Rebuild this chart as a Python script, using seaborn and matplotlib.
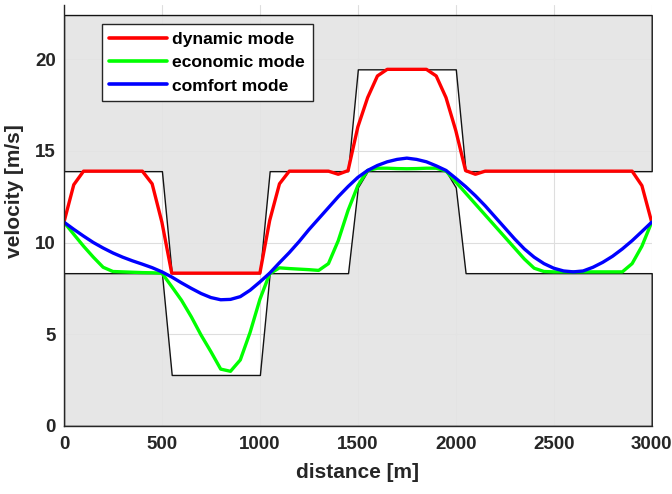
import numpy as np
import pandas as pd
import matplotlib
matplotlib.use("Agg")
import matplotlib.pyplot as plt
import seaborn as sns

# ---------------- data ----------------
distance = list(range(0, 3001, 50))

dynamic = [11.11, 13.15, 13.89, 13.89, 13.89, 13.89, 13.89, 13.89, 13.89,
           13.2, 11.1,
           8.33, 8.33, 8.33, 8.33, 8.33, 8.33, 8.33, 8.33, 8.33, 8.33,
           11.2, 13.2, 13.89, 13.89, 13.89, 13.89, 13.89,
           13.72, 13.92, 16.3, 17.9, 19.08,
           19.44, 19.44, 19.44, 19.44, 19.44,
           19.08, 17.9, 16.1, 13.92, 13.72,
           13.89, 13.89, 13.89, 13.89, 13.89, 13.89, 13.89, 13.89,
           13.89, 13.89, 13.89, 13.89, 13.89, 13.89, 13.89, 13.89,
           13.1, 11.11]

economic = [11.11, 10.45, 9.8, 9.2, 8.65, 8.42, 8.4, 8.38, 8.36, 8.35, 8.33,
            7.6, 6.85, 5.95, 4.95, 4.05, 3.1, 2.98, 3.6, 5.1, 6.9, 8.3,
            8.62, 8.58, 8.55, 8.52, 8.48, 8.85, 10.1, 11.75, 13.1, 13.93,
            14.05, 14.05, 14.03, 14.02, 14.03, 14.05, 14.05, 13.9,
            13.3, 12.7, 12.1, 11.5, 10.9, 10.3, 9.7, 9.1, 8.6, 8.42,
            8.4, 8.4, 8.4, 8.4, 8.4, 8.4, 8.4, 8.4,
            8.85, 9.8, 11.11]

comfort = [11.11, 10.72, 10.35, 10.0, 9.7, 9.43, 9.2, 9.0, 8.82, 8.63, 8.4,
           8.12, 7.8, 7.5, 7.22, 7.0, 6.88, 6.9, 7.05, 7.4, 7.85, 8.33,
           8.9, 9.45, 10.05, 10.7, 11.3, 11.9, 12.5, 13.05, 13.55, 13.93,
           14.2, 14.4, 14.53, 14.6, 14.53, 14.4, 14.18, 13.93,
           13.5, 13.05, 12.55, 12.0, 11.4, 10.8, 10.2, 9.65, 9.2, 8.85,
           8.6, 8.45, 8.4, 8.45, 8.65, 8.92, 9.25, 9.65, 10.1, 10.6, 11.11]

# velocity corridor
upper_x = [0, 500, 550, 1000, 1050, 1450, 1500, 2000, 2050, 3000]
upper_v = [13.89, 13.89, 8.33, 8.33, 13.89, 13.89, 19.44, 19.44, 13.89, 13.89]
lower_x = [0, 500, 550, 1000, 1050, 1450, 1500, 1550, 1950, 2000, 2050, 3000]
lower_v = [8.33, 8.33, 2.78, 2.78, 8.33, 8.33, 13.0, 13.89, 13.89, 13.0, 8.33, 8.33]
v_top = 22.4

modes = ["dynamic mode", "economic mode", "comfort mode"]
colors = {"dynamic mode": "#ff0000", "economic mode": "#00ff00", "comfort mode": "#0000ff"}

df = pd.DataFrame({
    "distance": distance * 3,
    "velocity": dynamic + economic + comfort,
    "mode": [modes[0]] * len(dynamic) + [modes[1]] * len(economic) + [modes[2]] * len(comfort),
})

# ---------------- plot ----------------
sns.set_theme(style="white")
plt.rcParams["font.family"] = ["Liberation Sans", "DejaVu Sans"]
plt.rcParams["font.weight"] = "bold"

txt = "#262626"
fig, ax = plt.subplots(figsize=(6.72, 4.94), dpi=100)
fig.subplots_adjust(left=0.0952, right=0.9698, bottom=0.1377, top=0.990)

ax.grid(True, color="#dedede", linewidth=0.8)
ax.set_axisbelow(True)

ax.fill_between(upper_x, upper_v, v_top, facecolor="#e4e4e4", edgecolor="black",
                linewidth=1.0, alpha=0.92, zorder=1.5)
ax.fill_between(lower_x, 0, lower_v, facecolor="#e4e4e4", edgecolor="black",
                linewidth=1.0, alpha=0.92, zorder=1.5)

sns.lineplot(data=df, x="distance", y="velocity", hue="mode", hue_order=modes,
             palette=colors, linewidth=2.4, ax=ax, zorder=3)

ax.set_xlim(0, 3000)
ax.set_ylim(0, 22.95)
ax.set_xticks([0, 500, 1000, 1500, 2000, 2500, 3000])
ax.set_yticks([0, 5, 10, 15, 20])

for s in ["top", "right"]:
    ax.spines[s].set_visible(False)
for s in ["left", "bottom"]:
    ax.spines[s].set_color(txt)
    ax.spines[s].set_linewidth(1.0)
    ax.spines[s].set_zorder(4)

ax.tick_params(axis="both", direction="in", length=4.5, width=0.8, color=txt,
               labelcolor=txt, labelsize=13.5)
ax.tick_params(axis="x", pad=7)
ax.tick_params(axis="y", pad=6)
for lab in ax.get_xticklabels() + ax.get_yticklabels():
    lab.set_fontweight("bold")

ax.set_xlabel("distance [m]", fontsize=15, fontweight="bold", color=txt)
ax.set_ylabel("velocity [m/s]", fontsize=15, fontweight="bold", color=txt)
ax.xaxis.set_label_coords(0.5, -0.088)
ax.yaxis.set_label_coords(-0.068, 0.557)

handles, labels = ax.get_legend_handles_labels()
leg = ax.legend(handles, labels, loc="upper left", bbox_to_anchor=(0.064, 0.955),
                borderaxespad=0, fancybox=False, framealpha=1, edgecolor=txt,
                handlelength=3.3, handletextpad=0.3, labelspacing=0.46,
                borderpad=0.45, prop={"size": 12.6, "weight": "bold"})
leg.get_frame().set_linewidth(1.0)
for line in leg.get_lines():
    line.set_linewidth(2.6)
for t in leg.get_texts():
    t.set_color("black")

fig.savefig("out.png", dpi=100)
plt.close(fig)
